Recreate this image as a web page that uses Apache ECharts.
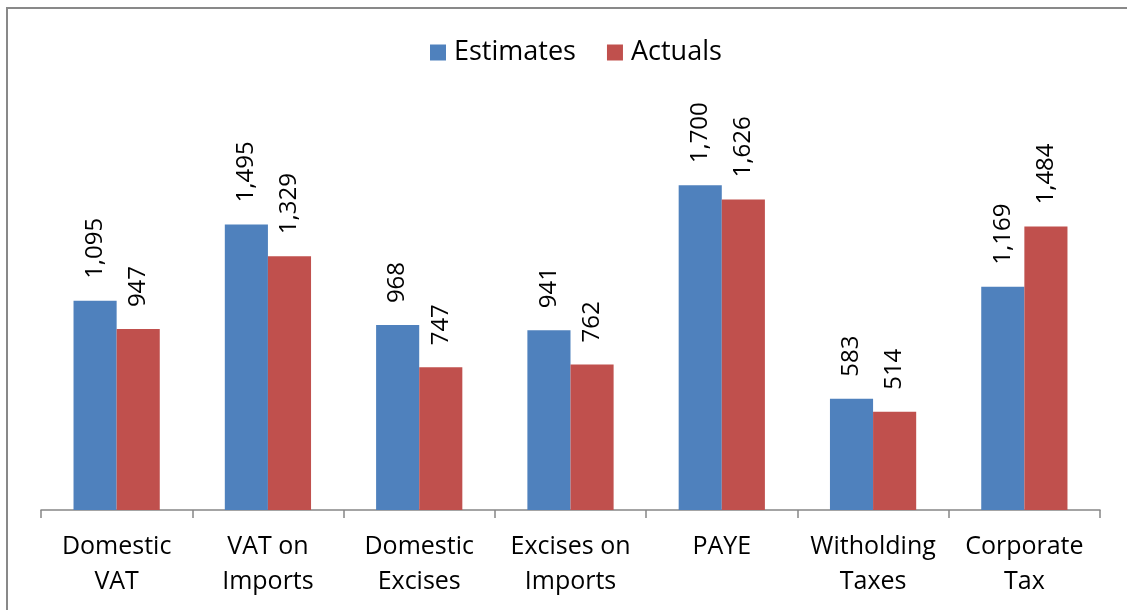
<!DOCTYPE html>
<html><head><meta charset="utf-8">
<script src="https://cdn.jsdelivr.net/npm/echarts@6/dist/echarts.min.js"></script>
<style>html,body{margin:0;padding:0;background:#fff}#c{width:1127px;height:610px}</style>
</head><body><div id="c"></div>
<script>
const categories = ['Domestic\nVAT', 'VAT on\nImports', 'Domestic\nExcises', 'Excises on\nImports', 'PAYE', 'Witholding\nTaxes', 'Corporate\nTax'];
const estimates = [1095, 1495, 968, 941, 1700, 583, 1169];
const actuals = [947, 1329, 747, 762, 1626, 514, 1484];
const FONT = 'Open Sans';
const chart = echarts.init(document.getElementById('c'), null, {renderer: 'canvas'});
const lbl = {
  show: true, position: 'top', rotate: 90, align: 'left', verticalAlign: 'middle',
  distance: 22, fontFamily: FONT, fontSize: 24, color: '#000',
  formatter: p => p.value.toLocaleString('en-US')
};
chart.setOption({
  animation: false,
  graphic: [{type: 'rect', shape: {x: 7, y: 8, width: 1140, height: 620},
    style: {fill: 'none', stroke: '#898989', lineWidth: 2}, silent: true}],
  legend: {top: 39, left: 430, padding: 0, itemWidth: 16, itemHeight: 16, itemGap: 31,
    icon: 'rect', textStyle: {fontFamily: FONT, fontSize: 27, color: '#000', padding: [0, 0, 0, 3]},
    data: ['Estimates', 'Actuals']},
  grid: {left: 41, right: 27, top: 128, bottom: 100},
  xAxis: {type: 'category', data: categories,
    axisLine: {lineStyle: {color: '#868686', width: 1.5}},
    axisTick: {show: true, length: 8, lineStyle: {color: '#868686', width: 1.5}},
    axisLabel: {fontFamily: FONT, fontSize: 25, color: '#000', lineHeight: 35, margin: 19, interval: 0}},
  yAxis: {type: 'value', min: 0, max: 2000, show: false, splitLine: {show: false}},
  series: [
    {name: 'Estimates', type: 'bar', data: estimates, barGap: '0%', barCategoryGap: '43%',
     itemStyle: {color: '#4F81BD'}, label: lbl},
    {name: 'Actuals', type: 'bar', data: actuals,
     itemStyle: {color: '#C0504D'}, label: lbl}
  ]
});
</script></body></html>
